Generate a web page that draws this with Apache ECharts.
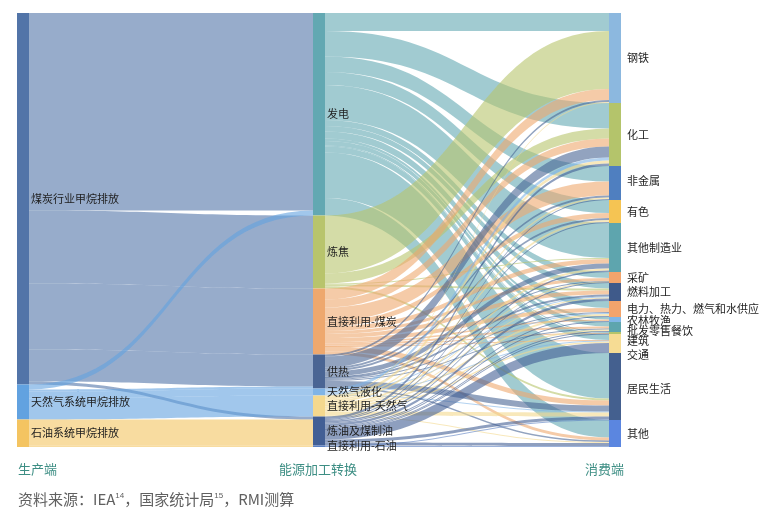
<!DOCTYPE html>
<html>
<head>
<meta charset="utf-8">
<script src="https://cdn.jsdelivr.net/npm/echarts@6/dist/echarts.min.js"></script>
<style>
  html, body { margin: 0; padding: 0; background: #fff; }
  #sankey { width: 768px; height: 519px; }
</style>
</head>
<body>
<div id="sankey"></div>
<script>
// 生产端 -> 能源加工转换 -> 消费端
const producers = ['煤炭行业甲烷排放', '天然气系统甲烷排放', '石油系统甲烷排放'];
const converters = ['发电', '炼焦', '直接利用-煤炭', '供热', '天然气液化', '直接利用-天然气', '炼油及煤制油', '直接利用-石油'];
const consumers = ['钢铁', '化工', '非金属', '有色', '其他制造业', '采矿', '燃料加工', '电力、热力、燃气和水供应',
  '农林牧渔', '批发零售餐饮', '建筑', '交通', '居民生活', '其他'];

// rows: producers, cols: converters
const supplyFlows = [
  [197.5, 73, 66, 32, 0, 0, 3, 0],
  [5, 0, 0, 2, 7, 21, 0, 0],
  [0, 0, 0, 0, 0, 0, 26, 1.5]
];

// rows: converters, cols: consumers
const useFlows = [
  [18, 25.5, 15.5, 13, 35, 6, 5.5, 7, 2.5, 4.5, 1, 6, 45.5, 17.5],
  [58, 10, 0, 0, 1, 0, 2, 0, 0, 0, 0, 0, 2, 0],
  [11, 8, 14, 5, 4.5, 3, 4, 4, 1.5, 2, 0.5, 0.5, 5, 3],
  [2, 11, 2, 2, 5, 0.5, 2, 1, 0, 1, 0, 0, 6, 1.5],
  [0, 3, 0, 0, 0, 0, 1, 1, 0, 0, 0, 1, 1, 0],
  [1, 3, 1.5, 2, 2, 0.5, 1, 2, 0, 1.5, 0, 1.5, 4, 1],
  [0, 2.5, 1, 1, 1.5, 1, 2.5, 1, 1, 1, 0.5, 10, 3, 3],
  [0, 0, 0, 0, 0, 0, 0, 0, 0, 0, 0, 0, 0.5, 1]
];

const columnTitles = ['生产端', '能源加工转换', '消费端'];

const producerColors = ['#5274a8', '#62a2e0', '#f4c461'];
const converterColors = ['#63a8b2', '#b8c46c', '#eea86e', '#4a6594', '#80b4e6', '#f4d88e', '#425f95', '#5a7fc2'];
const consumerColors = ['#8cb8df', '#b4c46b', '#4f7fc0', '#f5c453', '#5ea5ae', '#f3a46c', '#3f5a8a', '#f3a46c',
  '#80b6e6', '#5ea5ae', '#b4c46b', '#f6dc94', '#44608f', '#5b86e0'];
// small nudges for crowded right-side labels
const consumerLabelShift = [0, 0, -2, 0, 0, 0, 0, 0, 1, 4, 8, 11, 2, 0];

const nodes = [];
producers.forEach((n, i) => nodes.push({ name: n, depth: 0, itemStyle: { color: producerColors[i] }, label: { distance: 2 } }));
converters.forEach((n, i) => nodes.push({ name: n, depth: 1, itemStyle: { color: converterColors[i] }, label: { distance: 2 } }));
consumers.forEach((n, i) => nodes.push({
  name: n, depth: 2, itemStyle: { color: consumerColors[i] },
  label: { distance: 6, offset: [0, consumerLabelShift[i]] }
}));

const links = [];
supplyFlows.forEach((row, i) => row.forEach((v, j) => {
  if (v > 0) links.push({ source: producers[i], target: converters[j], value: v });
}));
useFlows.forEach((row, i) => row.forEach((v, j) => {
  if (v > 0) links.push({ source: converters[i], target: consumers[j], value: v });
}));

const chart = echarts.init(document.getElementById('sankey'));
const option = {
  animation: false,
  textStyle: { fontFamily: '"Noto Sans CJK SC", "Noto Sans", sans-serif' },
  graphic: [
    { type: 'text', left: 18, top: 463, style: { text: columnTitles[0], fontSize: 13, fill: '#3d8e84', fontFamily: 'Noto Sans CJK SC' } },
    { type: 'text', left: 279, top: 463, style: { text: columnTitles[1], fontSize: 13, fill: '#3d8e84', fontFamily: 'Noto Sans CJK SC' } },
    { type: 'text', left: 585, top: 463, style: { text: columnTitles[2], fontSize: 13, fill: '#3d8e84', fontFamily: 'Noto Sans CJK SC' } },
    {
      type: 'text', left: 18, top: 492,
      style: {
        text: '资料来源：IEA{sup|14}，国家统计局{sup|15}，RMI测算',
        fontSize: 15, fill: '#606060', fontFamily: 'Noto Sans CJK SC',
        rich: { sup: { fontSize: 8, fill: '#606060', verticalAlign: 'top', padding: [0, 0, 7, 0] } }
      }
    }
  ],
  series: [{
    type: 'sankey',
    left: 17,
    right: 147,
    top: 13,
    bottom: 72,
    nodeWidth: 12,
    nodeGap: 0,
    layoutIterations: 0,
    nodeAlign: 'justify',
    draggable: false,
    emphasis: { disabled: true },
    data: nodes,
    links: links,
    label: {
      position: 'right',
      color: '#1e1e1e',
      fontSize: 11,
      lineHeight: 12,
      fontFamily: 'Noto Sans CJK SC'
    },
    itemStyle: { borderWidth: 0 },
    lineStyle: { color: 'source', opacity: 0.6, curveness: 0.5 }
  }]
};
chart.setOption(option);
</script>
</body>
</html>
